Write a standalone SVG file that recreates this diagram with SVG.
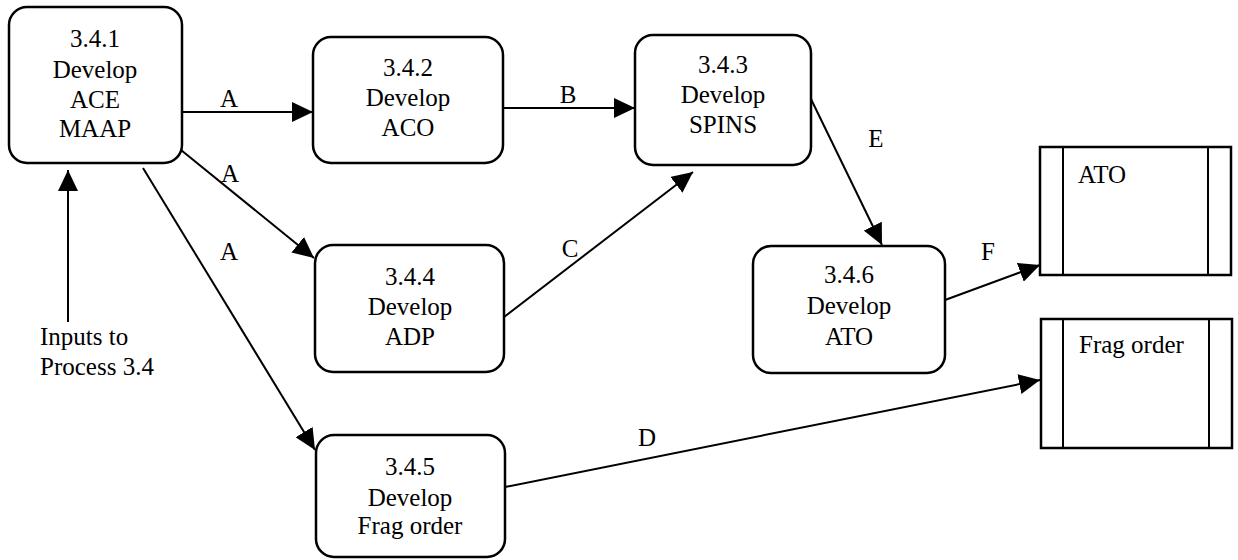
<svg xmlns="http://www.w3.org/2000/svg" width="1238" height="560" viewBox="0 0 1238 560">
<style>
.box{fill:#fff;stroke:#000;stroke-width:2.5}
.st{fill:#fff;stroke:#000;stroke-width:2.5}
.ln{stroke:#000;stroke-width:2;fill:none}
text{font-family:"Liberation Serif","Times New Roman","DejaVu Serif",serif;font-size:25px;fill:#000}
.c{text-anchor:middle}
</style>
<defs>
<marker id="ah" markerWidth="21" markerHeight="20" refX="21" refY="10" orient="auto" markerUnits="userSpaceOnUse">
<path d="M0,0 L21,10 L0,20 Z" fill="#000"/>
</marker>
</defs>
<g id="connectors">
<line class="ln" x1="68" y1="322" x2="68" y2="170" marker-end="url(#ah)"/>
<line class="ln" x1="182" y1="112" x2="313" y2="112" marker-end="url(#ah)"/>
<line class="ln" x1="503" y1="108" x2="635" y2="108" marker-end="url(#ah)"/>
<line class="ln" x1="181" y1="150" x2="314" y2="258" marker-end="url(#ah)"/>
<line class="ln" x1="143" y1="168" x2="315" y2="450" marker-end="url(#ah)"/>
<line class="ln" x1="504" y1="317" x2="693" y2="172" marker-end="url(#ah)"/>
<line class="ln" x1="810" y1="97" x2="882" y2="245" marker-end="url(#ah)"/>
<line class="ln" x1="945" y1="300" x2="1040" y2="265" marker-end="url(#ah)"/>
<line class="ln" x1="505" y1="487" x2="1040" y2="380" marker-end="url(#ah)"/>
<text class="c" x="229" y="107">A</text>
<text class="c" x="568" y="103">B</text>
<text class="c" x="230" y="182">A</text>
<text class="c" x="229" y="260">A</text>
<text class="c" x="570" y="257">C</text>
<text class="c" x="876" y="147">E</text>
<text class="c" x="988" y="260">F</text>
<text class="c" x="647" y="446">D</text>
<text x="40" y="345">Inputs to</text>
<text x="40" y="375">Process 3.4</text>
</g>
<g id="n341">
<rect class="box" x="9" y="7" width="173" height="156" rx="18"/>
<text class="c" x="95" y="47">3.4.1</text>
<text class="c" x="95" y="78">Develop</text>
<text class="c" x="95" y="108">ACE</text>
<text class="c" x="95" y="137">MAAP</text>
</g>
<g id="n342">
<rect class="box" x="313" y="37" width="190" height="126" rx="18"/>
<text class="c" x="408" y="76">3.4.2</text>
<text class="c" x="408" y="106">Develop</text>
<text class="c" x="408" y="136">ACO</text>
</g>
<g id="n343">
<rect class="box" x="635" y="35" width="176" height="130" rx="18"/>
<text class="c" x="723" y="73">3.4.3</text>
<text class="c" x="723" y="103">Develop</text>
<text class="c" x="723" y="133">SPINS</text>
</g>
<g id="n344">
<rect class="box" x="315" y="245" width="189" height="127" rx="18"/>
<text class="c" x="410" y="285">3.4.4</text>
<text class="c" x="410" y="315">Develop</text>
<text class="c" x="410" y="345">ADP</text>
</g>
<g id="n345">
<rect class="box" x="316" y="435" width="189" height="122" rx="18"/>
<text class="c" x="410" y="475">3.4.5</text>
<text class="c" x="410" y="506">Develop</text>
<text class="c" x="410" y="534">Frag order</text>
</g>
<g id="n346">
<rect class="box" x="753" y="246" width="192" height="127" rx="18"/>
<text class="c" x="849" y="283">3.4.6</text>
<text class="c" x="849" y="314">Develop</text>
<text class="c" x="849" y="345">ATO</text>
</g>
<g id="storeATO">
<rect class="st" x="1040" y="147" width="191" height="128"/>
<line class="ln" x1="1063" y1="147" x2="1063" y2="275"/>
<line class="ln" x1="1208" y1="147" x2="1208" y2="275"/>
<text x="1078" y="183">ATO</text>
</g>
<g id="storeFrag">
<rect class="st" x="1041" y="319" width="191" height="129"/>
<line class="ln" x1="1063" y1="319" x2="1063" y2="448"/>
<line class="ln" x1="1209" y1="319" x2="1209" y2="448"/>
<text x="1079" y="353">Frag order</text>
</g>
</svg>
